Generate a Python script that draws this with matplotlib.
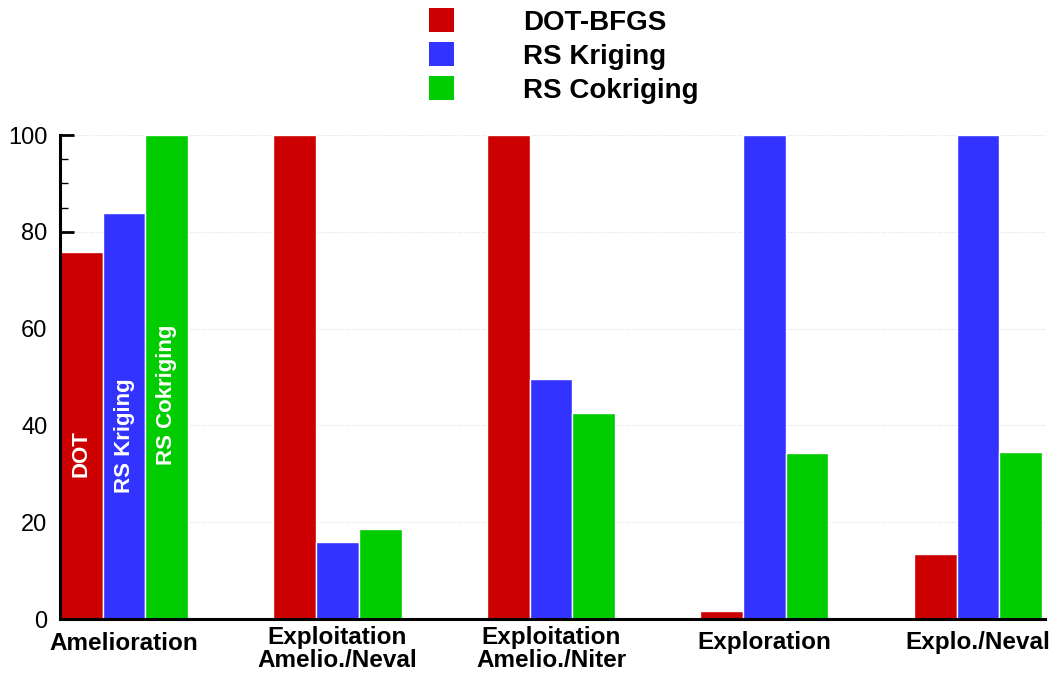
import matplotlib.pyplot as plt
import numpy as np
from matplotlib.patches import Patch
from matplotlib.ticker import MultipleLocator
from matplotlib.transforms import blended_transform_factory

plt.rcParams['font.family'] = ['Liberation Sans', 'DejaVu Sans']

categories = ['Amelioration', 'Exploitation\nAmelio./Neval', 'Exploitation\nAmelio./Niter',
              'Exploration', 'Explo./Neval']
series_names = ['DOT-BFGS', 'RS Kriging', 'RS Cokriging']
dot_bfgs = [75.8, 100, 100, 1.7, 13.4]
rs_kriging = [83.9, 15.9, 49.6, 100, 100]
rs_cokriging = [100, 18.7, 42.6, 34.3, 34.5]
colors = ['#cc0000', '#3333ff', '#00cc00']

fig = plt.figure(figsize=(10.61, 6.73), dpi=100)
ax = fig.add_axes([0.0566, 0.0802, 0.9284, 0.7192])

x = np.arange(len(categories))
w = 0.2
for i, vals in enumerate([dot_bfgs, rs_kriging, rs_cokriging]):
    ax.bar(x + (i - 1) * w, vals, w, color=colors[i], edgecolor='white', linewidth=1, zorder=2)

# labels inside the first group
inbar = ['DOT', 'RS Kriging', 'RS Cokriging']
inbar_y = [29.4, 26.0, 31.8]
for i, t in enumerate(inbar):
    ax.text(x[0] + (i - 1) * w, inbar_y[i], t, rotation=90, ha='center', va='bottom',
            color='white', fontsize=16, fontweight='bold', zorder=3)

ax.set_xlim(-0.3, 4.315)
ax.set_ylim(0, 100)
ax.set_xticks(x)
ax.set_xticklabels([])
ax.tick_params(axis='x', length=0)

# category labels, one line centred a bit higher than two-line ones
trans = blended_transform_factory(ax.transData, fig.transFigure)
for xi, lab in zip(x, categories):
    ypix = 649 if '\n' in lab else 643
    ax.text(xi, 1 - ypix / 673, lab, transform=trans, ha='center', va='center',
            fontsize=17.5, fontweight='bold', linespacing=1.05)

ax.yaxis.set_major_locator(MultipleLocator(20))
ax.yaxis.set_minor_locator(MultipleLocator(5))
ax.tick_params(axis='y', which='major', direction='in', length=10, width=2, labelsize=17, pad=9)
ax.tick_params(axis='y', which='minor', direction='in', length=6, width=1)
ax.grid(axis='y', which='major', color='#dddddd', linestyle=':', linewidth=0.8, zorder=0)

for s in ['top', 'right']:
    ax.spines[s].set_visible(False)
ax.spines['left'].set_linewidth(2.2)
ax.spines['bottom'].set_linewidth(2.2)

handles = [Patch(facecolor=c, edgecolor='none') for c in colors]
fig.legend(handles, series_names, loc='upper left', bbox_to_anchor=(429 / 1061, 1 - 8 / 673),
           frameon=False, prop={'size': 20, 'weight': 'bold'}, handlelength=0.9,
           handleheight=0.98, handletextpad=2.5, labelspacing=0.22, borderpad=0,
           borderaxespad=0)

plt.savefig('out.png', dpi=100)
